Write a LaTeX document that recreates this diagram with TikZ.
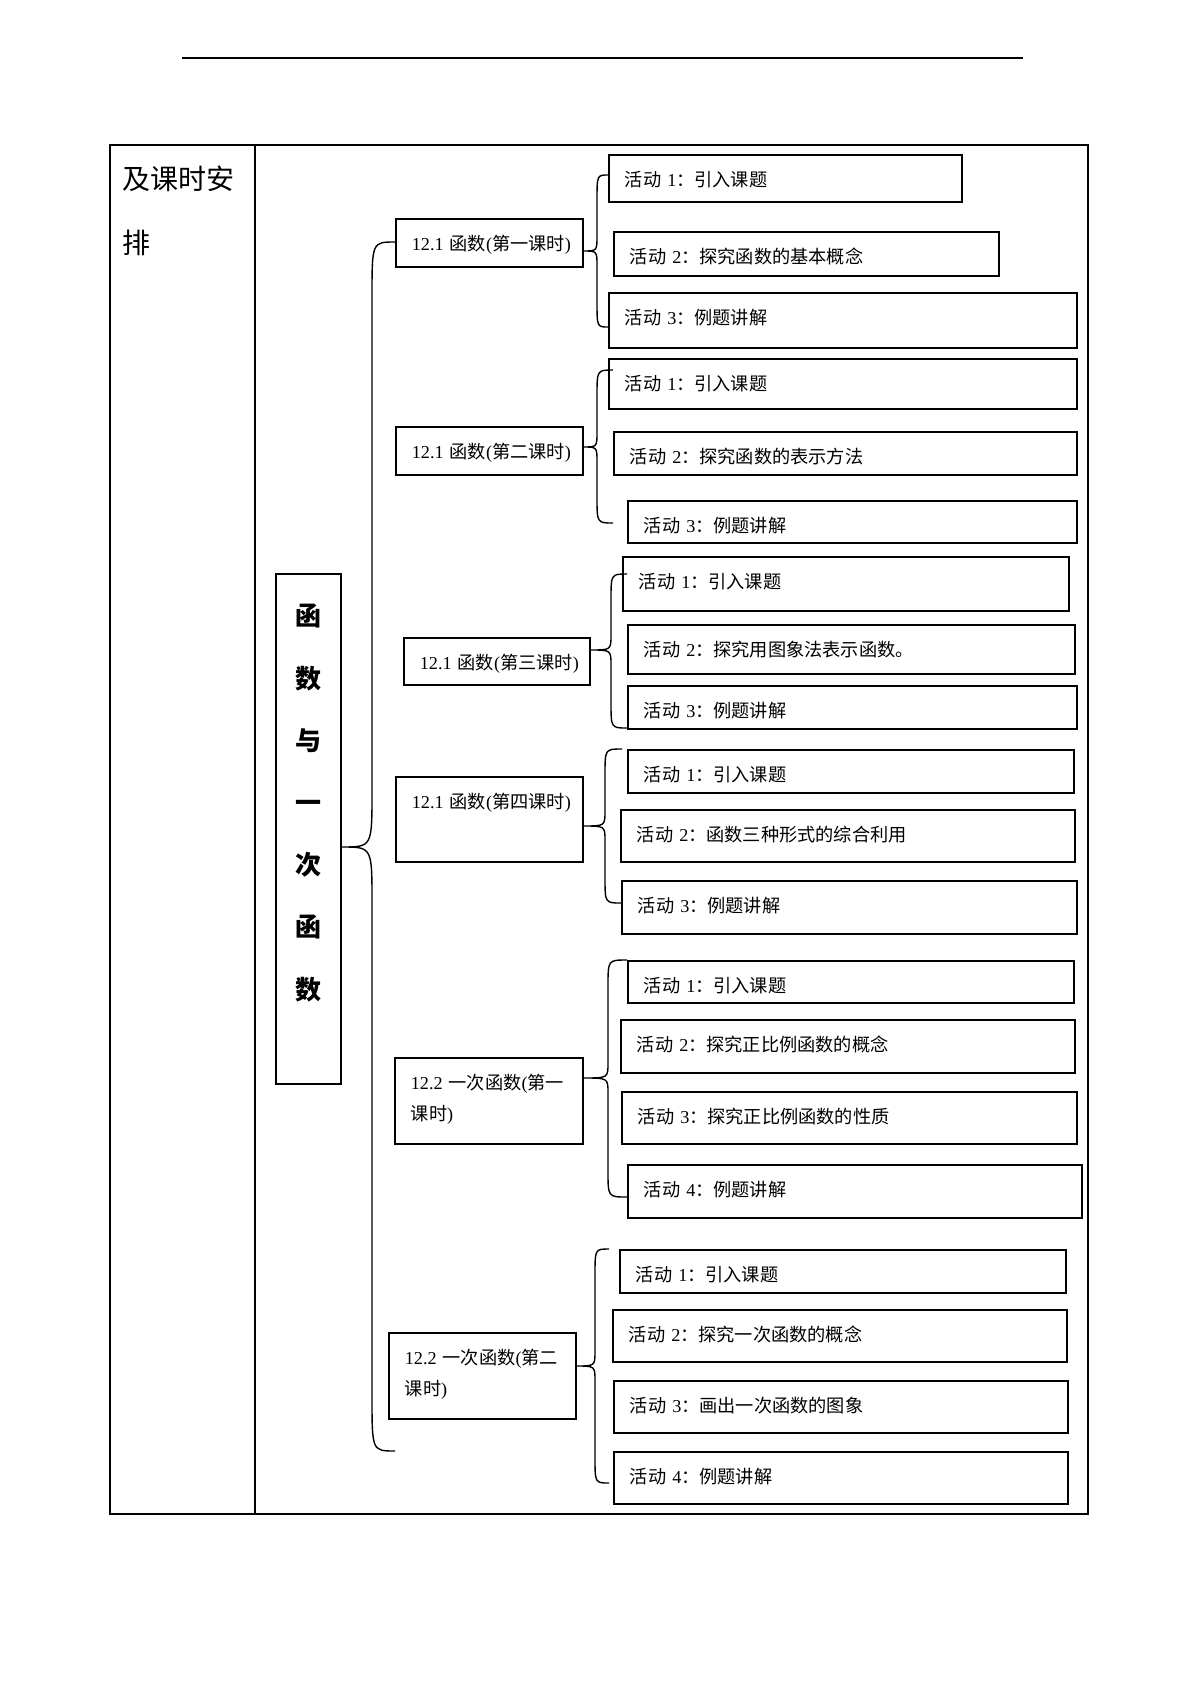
\documentclass[tikz,border=0pt]{standalone}
\usepackage{fontspec}
\setmainfont{Liberation Serif}
\newfontfamily\cjk{Noto Sans CJK SC}
\usetikzlibrary{calc}

\newcommand\zh[1]{{\cjk #1}}

\tikzset{
  actbox/.style={draw, line width=1.6pt, anchor=north west, inner xsep=16pt, inner ysep=0pt,
    align=left, text height=31.5pt, font=\fontsize{18.2}{31}\selectfont},
  curly/.style n args={3}{line width=1.4pt,
    to path={let \p1=(\tikztostart), \p2=(\tikztotarget), \p3=(#1,#2), \p4=(#1,#3) in
      .. controls (\x3,\y1) .. (\x3,{\y1+\y3}) -- (\x3,{\y2-\y4}) .. controls (\x3,\y2) .. (\tikztotarget)}}
}

\begin{document}
\begin{tikzpicture}[x=1pt, y=-1pt]
\useasboundingbox (0,0) rectangle (1200,1697);

% header rule
\draw[line width=1.8pt] (182,58) -- (1023,58);

% table
\draw[line width=1.2pt] (110,145) rectangle (1088,1514);
\draw[line width=1.2pt] (255,145) -- (255,1514);
\node[anchor=base west, inner sep=0pt, align=left, font=\cjk\fontsize{28}{64}\selectfont] (head) at (122,253) {及课时安\\排};

% chapter
\node[draw, line width=1.6pt, anchor=north west, inner sep=0pt, text width=65pt, align=center,
  text height=52pt, text depth=458pt, font=\cjk\bfseries\fontsize{26}{62.2}\selectfont] (chap) at (275,573)
  {函\\数\\与\\一\\次\\函\\数};

% lessons
\node[actbox, text width=155pt, text depth=16.5pt] (l1) at (395,218) {12.1~\zh{函数}(\zh{第一课时})};
\node[actbox, text width=155pt, text depth=16.5pt] (l2) at (395,426) {12.1~\zh{函数}(\zh{第二课时})};
\node[actbox, text width=154pt, text depth=15.5pt] (l3) at (403,637) {12.1~\zh{函数}(\zh{第三课时})};
\node[actbox, text width=155pt, text depth=53.5pt] (l4) at (395,776) {12.1~\zh{函数}(\zh{第四课时})};
\node[actbox, text width=156pt, text depth=54.5pt] (l5) at (394,1057) {12.2~\zh{一次函数}(\zh{第一}\\\zh{课时})};
\node[actbox, text width=155pt, text depth=54.5pt] (l6) at (388,1332) {12.2~\zh{一次函数}(\zh{第二}\\\zh{课时})};

% activities of lesson 1
\node[actbox, text width=321pt, text depth=15.5pt] (a11) at (608,154) {\zh{活动} 1\zh{：引入课题}};
\node[actbox, text width=353pt, text depth=12.5pt] (a12) at (613,231) {\zh{活动} 2\zh{：探究函数的基本概念}};
\node[actbox, text width=436pt, text depth=23.5pt] (a13) at (608,292) {\zh{活动} 3\zh{：例题讲解}};
% activities of lesson 2
\node[actbox, text width=436pt, text depth=18.5pt] (a21) at (608,358) {\zh{活动} 1\zh{：引入课题}};
\node[actbox, text width=431pt, text depth=11.5pt] (a22) at (613,431) {\zh{活动} 2\zh{：探究函数的表示方法}};
\node[actbox, text width=417pt, text depth=10.5pt] (a23) at (627,500) {\zh{活动} 3\zh{：例题讲解}};
% activities of lesson 3
\node[actbox, text width=414pt, text depth=22.5pt] (a31) at (622,556) {\zh{活动} 1\zh{：引入课题}};
\node[actbox, text width=415pt, text depth=17.5pt] (a32) at (627,624) {\zh{活动} 2\zh{：探究用图象法表示函数。}};
\node[actbox, text width=417pt, text depth=11.5pt] (a33) at (627,685) {\zh{活动} 3\zh{：例题讲解}};
% activities of lesson 4
\node[actbox, text width=414pt, text depth=11.5pt] (a41) at (627,749) {\zh{活动} 1\zh{：引入课题}};
\node[actbox, text width=422pt, text depth=20.5pt] (a42) at (620,809) {\zh{活动} 2\zh{：函数三种形式的综合利用}};
\node[actbox, text width=423pt, text depth=21.5pt] (a43) at (621,880) {\zh{活动} 3\zh{：例题讲解}};
% activities of lesson 5
\node[actbox, text width=414pt, text depth=10.5pt] (a51) at (627,960) {\zh{活动} 1\zh{：引入课题}};
\node[actbox, text width=422pt, text depth=21.5pt] (a52) at (620,1019) {\zh{活动} 2\zh{：探究正比例函数的概念}};
\node[actbox, text width=423pt, text depth=20.5pt] (a53) at (621,1091) {\zh{活动} 3\zh{：探究正比例函数的性质}};
\node[actbox, text width=422pt, text depth=21.5pt] (a54) at (627,1164) {\zh{活动} 4\zh{：例题讲解}};
% activities of lesson 6
\node[actbox, text width=414pt, text depth=11.5pt] (a61) at (619,1249) {\zh{活动} 1\zh{：引入课题}};
\node[actbox, text width=422pt, text depth=20.5pt] (a62) at (612,1309) {\zh{活动} 2\zh{：探究一次函数的概念}};
\node[actbox, text width=422pt, text depth=20.5pt] (a63) at (613,1380) {\zh{活动} 3\zh{：画出一次函数的图象}};
\node[actbox, text width=422pt, text depth=20.5pt] (a64) at (613,1451) {\zh{活动} 4\zh{：例题讲解}};

% braces: end hook radius \re, tip radius \rt
\foreach \i/\xe/\yt/\xv/\xt/\ym/\xb/\yb/\re/\rt in {
    0/395/242/372/342/847/395/1451/55/55,
    1/608/175/597/583/251/608/327/26/15,
    2/613/370/597/583/447/613/523/26/15,
    3/627/574/611/590/650/627/728/26/15,
    4/622/749/605/583/826/621/903/26/15,
    5/627/960/608/583/1078/627/1197/26/15,
    6/609/1249/595/576/1366/609/1483/26/15} {
  \coordinate (top\i) at (\xe,\yt);
  \coordinate (tip\i) at (\xt,\ym);
  \coordinate (bot\i) at (\xb,\yb);
  \draw[line width=1.4pt] (top\i) to[curly={\xv}{\re}{\rt}] (tip\i) to[curly={\xv}{\rt}{\re}] (bot\i);
}

\end{tikzpicture}
\end{document}
